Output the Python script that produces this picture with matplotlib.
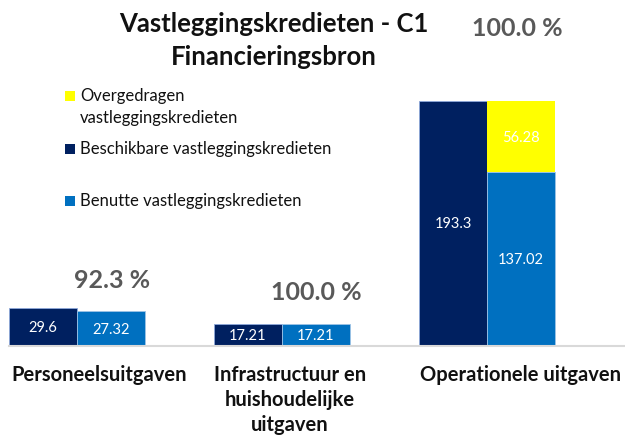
import matplotlib.pyplot as plt
from matplotlib.patches import Rectangle

categories = ["Personeelsuitgaven", "Infrastructuur en\nhuishoudelijke\nuitgaven", "Operationele uitgaven"]
beschikbaar = [29.6, 17.21, 193.3]
benut = [27.32, 17.21, 137.02]
overgedragen = [0.0, 0.0, 56.28]

series_names = ["Overgedragen\nvastleggingskredieten",
                "Beschikbare vastleggingskredieten",
                "Benutte vastleggingskredieten"]

NAVY = "#002060"
BLUE = "#0070C0"
YELLOW = "#FFFF00"
GREY_TXT = "#595959"

W, H = 625, 439
plt.rcParams['font.family'] = ['Lato', 'DejaVu Sans']


def px(x, y):
    # pixel position (from top-left) -> figure fraction
    return x / W, 1 - y / H


fig = plt.figure(figsize=(W / 100, H / 100), dpi=100)

# axes: baseline at y=347px, tallest bar top at y=102px
base_y = 347
top_y = 102
ax = fig.add_axes([9 / W, (H - base_y) / H, 616 / W, base_y / H])
scale = max(beschikbaar) / (base_y - top_y)
ax.set_ylim(0, base_y * scale)
bw = 68 / 205
ax.set_xlim(-bw, (625 - 77) / 205)
ax.axis("off")

x = list(range(len(categories)))
xl = [i - bw / 2 for i in x]
xr = [i + bw / 2 for i in x]

b1 = ax.bar(xl, beschikbaar, bw, color=NAVY, edgecolor="#8EA9DB", linewidth=0.6, clip_on=False)
b2 = ax.bar(xr, benut, bw, color=BLUE, edgecolor="#9DC3E6", linewidth=0.6, clip_on=False)
b3 = ax.bar(xr, overgedragen, bw, bottom=benut, color=YELLOW, edgecolor="none", clip_on=False)
ax.axhline(0, color="#D9D9D9", linewidth=1.5, clip_on=False)

for bars, vals in [(b1, beschikbaar), (b2, benut), (b3, overgedragen)]:
    for rect, v in zip(bars, vals):
        if v <= 0:
            continue
        ax.text(rect.get_x() + rect.get_width() / 2, rect.get_y() + rect.get_height() / 2,
                f"{v:g}", ha="center", va="center", color="white", fontsize=10.5)

# category labels (slightly offset to the right like the original)
label_x = [99, 290, 520]
for lx, cat in zip(label_x, categories):
    fx, fy = px(lx, 365)
    fig.text(fx, fy, cat, ha="center", va="top", fontsize=14.5, fontweight="bold",
             color="#111111", linespacing=1.3)

# percentage used
pct_pos = [(112, 280), (316, 293), (517, 28)]
for (pxx, pyy), b, u, o in zip(pct_pos, beschikbaar, benut, overgedragen):
    p = (u + o) / b * 100
    fx, fy = px(pxx, pyy)
    fig.text(fx, fy, f"{p:.1f} %", ha="center", va="center", fontsize=18,
             fontweight="bold", color=GREY_TXT)

# title
fx, fy = px(274, 24)
fig.text(fx, fy, "Vastleggingskredieten - C1", ha="center", va="center",
         fontsize=18.5, fontweight="bold", color="#111111")
fx, fy = px(274, 57)
fig.text(fx, fy, "Financieringsbron", ha="center", va="center",
         fontsize=18.5, fontweight="bold", color="#111111")

# legend, drawn by hand to keep the uneven spacing
legend_rows = [(YELLOW, series_names[0], 97), (NAVY, series_names[1], 150), (BLUE, series_names[2], 202)]
for col, name, yy in legend_rows:
    fx, fy = px(65, yy + 5)
    fig.patches.append(Rectangle((fx, fy), 10 / W, 10 / H, transform=fig.transFigure,
                                 facecolor=col, edgecolor="none"))
    tx, ty = px(80, yy - 9)
    fig.text(tx, ty, name, ha="left", va="top", fontsize=12, color="#111111", linespacing=1.45)

fig.savefig("out.png", dpi=100)
